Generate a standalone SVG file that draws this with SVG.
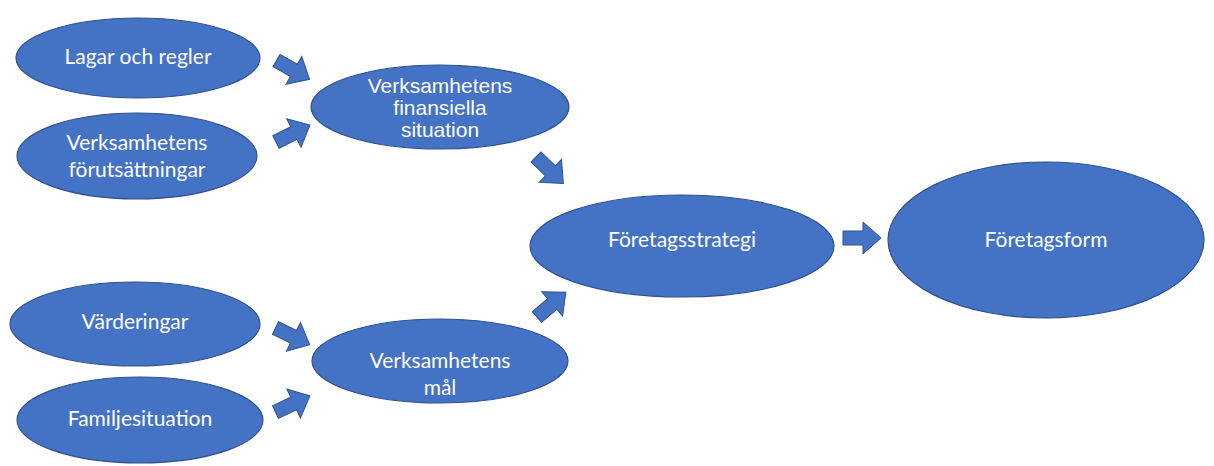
<svg xmlns="http://www.w3.org/2000/svg" width="1214" height="466" viewBox="0 0 1214 466">
<style>
.n{fill:#4472C4;stroke:#2F528F;stroke-width:1.2}
.a{fill:#4472C4;stroke:#2F528F;stroke-width:1}
.t{fill:#fff;font-family:Lato,"Open Sans",sans-serif;font-size:21px;text-anchor:middle}
.s{fill:#fff;font-family:"Liberation Sans",Arial,sans-serif;font-size:21px;text-anchor:middle}
</style>
<defs>
<path id="arr" d="M0,-7 H20 V-16 L38,0 L20,16 V7 H0 Z"/>
</defs>
<rect width="1214" height="466" fill="#fff"/>
<g id="n-lagar"><ellipse class="n" cx="138" cy="58" rx="122" ry="40"/><text class="t" x="138" y="64">Lagar och regler</text></g>
<g id="n-forut"><ellipse class="n" cx="137" cy="156" rx="120" ry="43"/><text class="t" x="137" y="150">Verksamhetens</text><text class="t" x="137" y="177">förutsättningar</text></g>
<g id="n-fin"><ellipse class="n" cx="440" cy="107" rx="129" ry="42"/><text class="s" x="440" y="93">Verksamhetens</text><text class="s" x="440" y="115">finansiella</text><text class="s" x="440" y="137">situation</text></g>
<g id="n-strategi"><ellipse class="n" cx="682" cy="246" rx="152" ry="51"/><text class="t" x="682" y="247">Företagsstrategi</text></g>
<g id="n-form"><ellipse class="n" cx="1046" cy="240" rx="158" ry="78"/><text class="t" x="1046" y="247">Företagsform</text></g>
<g id="n-varde"><ellipse class="n" cx="135" cy="324" rx="125" ry="42"/><text class="t" x="135" y="329">Värderingar</text></g>
<g id="n-familj"><ellipse class="n" cx="140" cy="420" rx="123" ry="43"/><text class="t" x="140" y="426">Familjesituation</text></g>
<g id="n-mal"><ellipse class="n" cx="440" cy="361" rx="128" ry="42"/><text class="t" x="440" y="368">Verksamhetens</text><text class="t" x="440" y="395">mål</text></g>
<g id="connectors">
<use href="#arr" class="a" transform="translate(276.5,60.5) rotate(29.6)"/>
<use href="#arr" class="a" transform="translate(276,142) rotate(-26.6)"/>
<use href="#arr" class="a" transform="translate(536,157) rotate(44)"/>
<use href="#arr" class="a" transform="translate(537,317) rotate(-40.6)"/>
<use href="#arr" class="a" transform="translate(843,238)"/>
<use href="#arr" class="a" transform="translate(275.5,328) rotate(26)"/>
<use href="#arr" class="a" transform="translate(275.5,412) rotate(-25)"/>
</g>
</svg>
